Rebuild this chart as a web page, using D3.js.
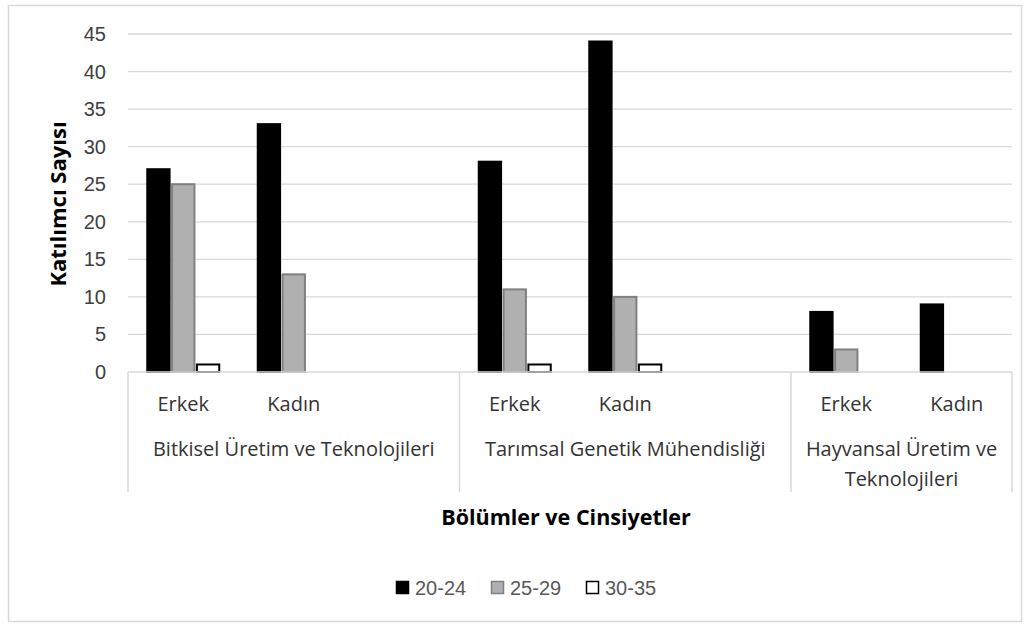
<!DOCTYPE html>
<meta charset="utf-8">
<style>
  body { margin: 0; background: #fff; }
  .grid line { stroke: #d9d9d9; stroke-width: 1.3; }
  .ytick { font: 20px "Liberation Sans", Arial, sans-serif; fill: #404040; }
  .cat { font: 20px "Open Sans", "Noto Sans", sans-serif; fill: #333; }
  .ttl { font-family: "Open Sans", "Noto Sans", sans-serif; font-weight: bold; fill: #000; }
  .leg text { font: 20px "Liberation Sans", Arial, sans-serif; fill: #595959; }
</style>
<svg id="chart" width="1032" height="626"></svg>
<script src="https://cdnjs.cloudflare.com/ajax/libs/d3/7.8.5/d3.min.js"></script>
<script>

var groups = ["Bitkisel Üretim ve Teknolojileri", "Tarımsal Genetik Mühendisliği", "Hayvansal Üretim ve Teknolojileri"];
var genders = ["Erkek", "Kadın"];
var series = ["20-24", "25-29", "30-35"];

// values per series: [Bitkisel E, Bitkisel K, Tarımsal E, Tarımsal K, Hayvansal E, Hayvansal K]
var v2024 = [27, 33, 28, 44, 8, 9];
var v2529 = [25, 13, 11, 10, 3, 0];
var v3035 = [1, 0, 1, 1, 0, 0];

var yTicks = [0, 5, 10, 15, 20, 25, 30, 35, 40, 45];

var fills = ["#000000", "#b0b0b0", "#ffffff"];
var strokes = ["#000000", "#808080", "#000000"];

// build categories (Excel leaves an empty slot after the first two groups)
var cats = [];
groups.forEach(function(g, gi) {
    genders.forEach(function(s, si) {
        cats.push({key: gi + "-" + s, group: gi, label: s, idx: gi * 2 + si});
    });
    if (gi < groups.length - 1) cats.push({key: gi + "-blank", group: gi, label: "", idx: -1});
});

var svg = d3.select("#chart");

svg.append("rect")
    .attr("x", 8.5).attr("y", 5.5)
    .attr("width", 1013).attr("height", 616)
    .attr("fill", "none").attr("stroke", "#d9d9d9").attr("stroke-width", 1.5);

var pLeft = 128, pRight = 1012, pTop = 34, pBottom = 372;

var x = d3.scaleBand()
    .domain(cats.map(function(d) { return d.key; }))
    .range([pLeft, pRight]);

var y = d3.scaleLinear().domain([0, 45]).range([pBottom, pTop]);

var xs = d3.scaleBand().domain(series).range([0, 72]).paddingInner(0.1);

// gridlines
svg.append("g").attr("class", "grid")
    .selectAll("line").data(yTicks.slice(1)).enter().append("line")
    .attr("x1", pLeft).attr("x2", pRight)
    .attr("y1", function(d) { return y(d); }).attr("y2", function(d) { return y(d); });

svg.append("g").selectAll("text").data(yTicks).enter().append("text")
    .attr("class", "ytick")
    .attr("x", 106)
    .attr("y", function(d) { return y(d); })
    .attr("dy", "0.35em")
    .attr("text-anchor", "end")
    .text(function(d) { return d; });

// bars
var valuesBySeries = [v2024, v2529, v3035];
var barData = [];
cats.forEach(function(c) {
    if (c.idx < 0) return;
    series.forEach(function(s, i) {
        barData.push({cat: c.key, s: s, i: i, v: valuesBySeries[i][c.idx]});
    });
});

var off = (x.bandwidth() - 72) / 2;
svg.append("g").selectAll("rect").data(barData.filter(function(d) { return d.v > 0; }))
    .enter().append("rect")
    .attr("x", function(d) { return x(d.cat) + off + xs(d.s); })
    .attr("y", function(d) { return y(d.v); })
    .attr("width", xs.bandwidth())
    .attr("height", function(d) { return pBottom - y(d.v); })
    .attr("fill", function(d) { return fills[d.i]; })
    .attr("stroke", function(d) { return strokes[d.i]; })
    .attr("stroke-width", 2);

// category axis
var axisG = svg.append("g");
axisG.append("line")
    .attr("x1", pLeft).attr("x2", pRight).attr("y1", pBottom).attr("y2", pBottom)
    .attr("stroke", "#d9d9d9").attr("stroke-width", 1.5);

var bounds = [pLeft];
groups.forEach(function(g, gi) {
    var gc = cats.filter(function(c) { return c.group === gi; });
    bounds.push(x(gc[gc.length - 1].key) + x.bandwidth());
});
axisG.selectAll(".div").data(bounds).enter().append("line")
    .attr("x1", function(d) { return d; }).attr("x2", function(d) { return d; })
    .attr("y1", pBottom).attr("y2", 492)
    .attr("stroke", "#d9d9d9").attr("stroke-width", 1.5);

axisG.selectAll(".sub").data(cats.filter(function(c) { return c.label; })).enter().append("text")
    .attr("class", "cat")
    .attr("x", function(d) { return x(d.key) + x.bandwidth() / 2; })
    .attr("y", 411)
    .attr("text-anchor", "middle")
    .text(function(d) { return d.label; });

groups.forEach(function(g, gi) {
    var cx = (bounds[gi] + bounds[gi + 1]) / 2;
    var lines = gi === 2 ? ["Hayvansal Üretim ve", "Teknolojileri"] : [g];
    lines.forEach(function(t, li) {
        axisG.append("text").attr("class", "cat")
            .attr("x", cx).attr("y", 456 + li * 30)
            .attr("text-anchor", "middle")
            .text(t);
    });
});

// titles
svg.append("text").attr("class", "ttl")
    .attr("transform", "translate(66,204) rotate(-90)")
    .attr("text-anchor", "middle")
    .style("font-size", "22px")
    .text("Katılımcı Sayısı");

svg.append("text").attr("class", "ttl")
    .attr("x", 566).attr("y", 525)
    .attr("text-anchor", "middle")
    .style("font-size", "21.5px")
    .text("Bölümler ve Cinsiyetler");

// legend
var legX = [396, 491, 586];
var leg = svg.append("g").attr("class", "leg").selectAll("g").data(series).enter().append("g")
    .attr("transform", function(d, i) { return "translate(" + legX[i] + ",581)"; });
leg.append("rect")
    .attr("x", 0.5).attr("y", 0.5).attr("width", 12).attr("height", 12)
    .attr("fill", function(d, i) { return fills[i]; })
    .attr("stroke", function(d, i) { return strokes[i]; })
    .attr("stroke-width", 1.5);
leg.append("text").attr("x", 19).attr("y", 7).attr("dy", "0.35em").text(function(d) { return d; });

</script>
